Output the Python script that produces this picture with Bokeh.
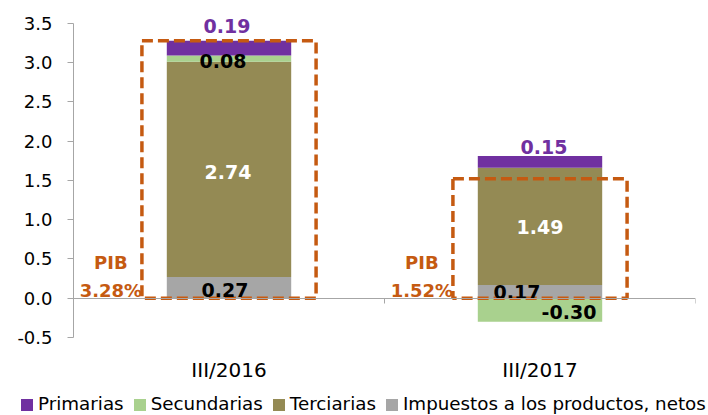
from bokeh.plotting import figure
from bokeh.layouts import column
from bokeh.models import (Range1d, LinearAxis, FixedTicker, ColumnDataSource,
                          PrintfTickFormatter, Div)
from bokeh.core.properties import value
from bokeh.embed import file_html
from bokeh.resources import INLINE

# ---------------- data ----------------
categories = ["III/2016", "III/2017"]
series_names = ["Primarias", "Secundarias", "Terciarias",
                "Impuestos a los productos, netos"]
primarias = [0.19, 0.15]
secundarias = [0.08, -0.30]
terciarias = [2.74, 1.49]
impuestos = [0.27, 0.17]
pib = [3.28, 1.52]
y_ticks = [-0.5, 0.0, 0.5, 1.0, 1.5, 2.0, 2.5, 3.0, 3.5]

# ---------------- styles ----------------
FONT = "DejaVu Sans"
colors = {"Primarias": "#7030A0", "Secundarias": "#A9D18E",
          "Terciarias": "#948A54", "Impuestos a los productos, netos": "#A6A6A6"}
label_colors = {"Primarias": "#7030A0", "Secundarias": "black",
                "Terciarias": "white", "Impuestos a los productos, netos": "black"}
# pixel nudges of data labels, per series, per category
label_dx = {"Primarias": [-2, 4], "Secundarias": [-6, 29],
            "Terciarias": [-1, 0], "Impuestos a los productos, netos": [-4, -23]}
label_dy = {"Primarias": [-22, -15], "Secundarias": [2, 2],
            "Terciarias": [3, 1], "Impuestos a los productos, netos": [2, 0]}
ORANGE = "#C55A11"
AXIS_GRAY = "#A6A6A6"
BAR_W = 0.40
BOX_W = 0.56

values = {"Primarias": primarias, "Secundarias": secundarias,
          "Terciarias": terciarias, "Impuestos a los productos, netos": impuestos}
stack_order = ["Impuestos a los productos, netos", "Terciarias", "Secundarias", "Primarias"]

n = len(categories)
xc = [i + 0.5 for i in range(n)]

p = figure(width=708, height=392, x_range=Range1d(0, n), y_range=Range1d(-0.5, 3.6),
           output_backend="svg", toolbar_location=None,
           x_axis_type=None, y_axis_type=None,
           min_border_left=73, min_border_right=13, min_border_top=15, min_border_bottom=55)
p.outline_line_color = None
p.background_fill_color = "white"
p.border_fill_color = "white"

# y axis
yaxis = LinearAxis(ticker=FixedTicker(ticks=y_ticks), formatter=PrintfTickFormatter(format="%.1f"),
                   bounds=(y_ticks[0], y_ticks[-1]))
yaxis.axis_line_color = AXIS_GRAY
yaxis.major_tick_line_color = AXIS_GRAY
yaxis.major_tick_out = 6
yaxis.major_tick_in = 0
yaxis.minor_tick_line_color = None
yaxis.major_label_text_font = FONT
yaxis.major_label_text_font_size = "18px"
yaxis.major_label_text_color = "black"
yaxis.major_label_standoff = 15
p.add_layout(yaxis, "left")

# category axis line at zero
zaxis = LinearAxis(ticker=FixedTicker(ticks=list(range(n + 1))), fixed_location=0)
zaxis.axis_line_color = AXIS_GRAY
zaxis.major_tick_line_color = AXIS_GRAY
zaxis.major_tick_out = 5
zaxis.major_tick_in = 0
zaxis.minor_tick_line_color = None
zaxis.major_label_text_font_size = "0px"
zaxis.major_label_text_color = None
zaxis.major_label_standoff = 0
p.add_layout(zaxis, "below")

# category labels
caxis = LinearAxis(ticker=FixedTicker(ticks=xc),
                   major_label_overrides={x: c for x, c in zip(xc, categories)})
caxis.axis_line_color = None
caxis.major_tick_line_color = None
caxis.minor_tick_line_color = None
caxis.major_label_text_font = FONT
caxis.major_label_text_font_size = "20px"
caxis.major_label_text_color = "black"
caxis.major_label_standoff = 14
p.add_layout(caxis, "below")

# stacked bars (positives upward, negatives downward)
pos_base = [0.0] * n
neg_base = [0.0] * n
label_rows = {"x": [], "y": [], "text": [], "color": [], "dx": [], "dy": []}
for name in stack_order:
    vals = values[name]
    bottoms, tops = [], []
    for i, v in enumerate(vals):
        if v >= 0:
            b, t = pos_base[i], pos_base[i] + v
            pos_base[i] = t
        else:
            b, t = neg_base[i] + v, neg_base[i]
            neg_base[i] = b
        bottoms.append(b)
        tops.append(t)
        label_rows["x"].append(xc[i])
        label_rows["y"].append((b + t) / 2)
        label_rows["text"].append(f"{v:.2f}")
        label_rows["color"].append(label_colors[name])
        label_rows["dx"].append(label_dx[name][i])
        label_rows["dy"].append(label_dy[name][i])
    src = ColumnDataSource(dict(x=xc, top=tops, bottom=bottoms))
    p.vbar(x="x", top="top", bottom="bottom", width=BAR_W, source=src,
           fill_color=colors[name], line_color=None)

# PIB dashed boxes
box_src = ColumnDataSource(dict(left=[x - BOX_W / 2 for x in xc],
                                right=[x + BOX_W / 2 for x in xc],
                                top=pib, bottom=[0.0] * n,
                                pib_txt=[f"{v:.2f}%" for v in pib],
                                pib_lbl=["PIB"] * n))
p.quad(left="left", right="right", top="top", bottom="bottom", source=box_src,
       fill_color=None, line_color=ORANGE, line_width=3.5, line_dash="11 5")

p.text(x="left", y="bottom", text="pib_lbl", source=box_src, x_offset=-31, y_offset=-36,
       text_align="center", text_baseline="middle", text_color=ORANGE,
       text_font=value(FONT), text_font_style="bold", text_font_size="18px")
p.text(x="left", y="bottom", text="pib_txt", source=box_src, x_offset=-31, y_offset=-8,
       text_align="center", text_baseline="middle", text_color=ORANGE,
       text_font=value(FONT), text_font_style="bold", text_font_size="18px")

# data labels
lab_src = ColumnDataSource(label_rows)
p.text(x="x", y="y", text="text", source=lab_src, x_offset="dx", y_offset="dy",
       text_align="center", text_baseline="middle", text_color="color",
       text_font=value(FONT), text_font_style="bold", text_font_size="19px")

# ---------------- legend strip (HTML) ----------------
parts = []
for nm in series_names:
    parts.append(
        f"<span style='display:inline-block;width:12px;height:12px;background:{colors[nm]};"
        f"margin-right:5px;vertical-align:-1px;'></span>"
        f"<span style='margin-right:10px;'>{nm}</span>")
legend_html = (f"<div style=\"font-family:'{FONT}';font-size:18.3px;color:black;white-space:nowrap;"
               f"padding-left:21px;line-height:24px;margin:0;\">" + "".join(parts) + "</div>")
lg = Div(text=legend_html, width=708, height=23, margin=(0, 0, 0, 0))

layout = column(p, lg, spacing=0)
open("out.html", "w").write(file_html(layout, INLINE))
